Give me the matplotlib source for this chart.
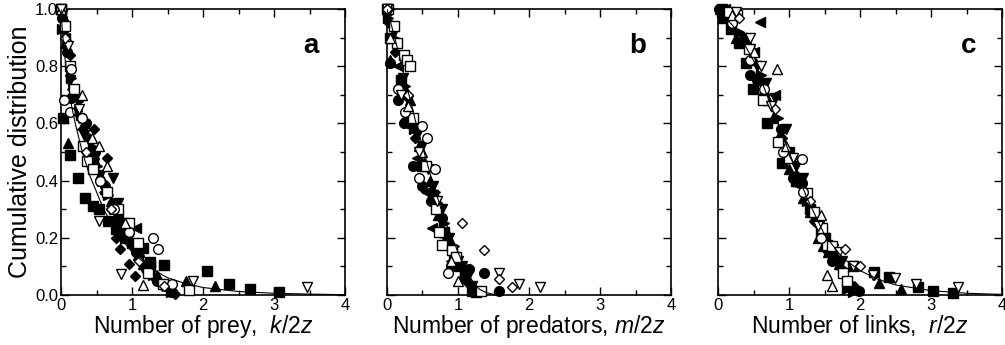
import matplotlib
matplotlib.use("Agg")
import matplotlib.pyplot as plt
from matplotlib.ticker import MultipleLocator

plt.rcParams['font.family'] = ['Liberation Sans', 'DejaVu Sans']
plt.rcParams['mathtext.fontset'] = 'custom'
plt.rcParams['mathtext.rm'] = 'Liberation Sans'
plt.rcParams['mathtext.it'] = 'Liberation Sans:italic'

# ---------------- fit curves ----------------
fit_a_x = [0.0, 0.02, 0.05, 0.1, 0.15, 0.2, 0.3, 0.4, 0.5, 0.6, 0.75, 0.9, 1.0, 1.25, 1.5, 1.75, 2.0, 2.5, 3.0, 3.5, 4.0]
fit_a_y = [1.0, 0.92, 0.84, 0.74, 0.66, 0.6, 0.5, 0.42, 0.36, 0.3, 0.23, 0.18, 0.15, 0.095, 0.06, 0.04, 0.026, 0.012, 0.006, 0.003, 0.001]
fit_b_x = [0.0, 0.1, 0.2, 0.3, 0.4, 0.5, 0.6, 0.7, 0.8, 0.9, 1.0, 1.1, 1.2, 1.3, 1.4, 1.5]
fit_b_y = [1.0, 0.91, 0.81, 0.71, 0.61, 0.52, 0.43, 0.35, 0.27, 0.21, 0.15, 0.09, 0.05, 0.02, 0.008, 0.002]
fit_c_x = [0.0, 0.25, 0.5, 0.75, 1.0, 1.25, 1.5, 1.75, 2.0, 2.25, 2.5, 3.0, 3.5, 4.0]
fit_c_y = [1.0, 0.93, 0.82, 0.66, 0.5, 0.34, 0.21, 0.13, 0.085, 0.055, 0.035, 0.015, 0.006, 0.002]

# ---------------- panel a : prey ----------------
a_sqf_x = [0.0, 0.03, 0.13, 0.24, 0.34, 0.45, 0.54, 0.66, 0.78, 0.9, 1.05, 1.16, 1.25, 1.45, 2.06, 2.36, 2.66, 3.06]
a_sqf_y = [1.0, 0.62, 0.49, 0.41, 0.34, 0.31, 0.30, 0.26, 0.23, 0.2, 0.17, 0.164, 0.115, 0.105, 0.085, 0.04, 0.02, 0.01]
a_sqo_x = [0.0, 0.05, 0.13, 0.18, 0.31, 0.37, 0.45, 0.64, 0.8, 0.95, 1.08, 1.22, 1.44, 1.8]
a_sqo_y = [1.0, 0.94, 0.80, 0.72, 0.52, 0.47, 0.44, 0.36, 0.30, 0.25, 0.18, 0.077, 0.04, 0.017]
a_cf_x = [0.02, 0.08, 0.14, 0.26, 0.35, 0.48, 0.62, 0.78, 0.92, 1.05, 1.2, 1.35, 1.48, 1.56]
a_cf_y = [0.97, 0.85, 0.69, 0.69, 0.6, 0.5, 0.38, 0.3, 0.22, 0.15, 0.09, 0.05, 0.03, 0.01]
a_co_x = [0.0, 0.04, 0.13, 0.14, 0.3, 0.55, 0.75, 0.95, 1.29, 1.36, 1.56]
a_co_y = [1.0, 0.68, 0.64, 0.79, 0.62, 0.4, 0.3, 0.22, 0.2, 0.16, 0.04]
a_tuf_x = [0.0, 0.05, 0.1, 0.22, 0.32, 0.4, 0.48, 0.55, 0.62, 0.7, 0.78, 0.85, 0.93, 1.0, 1.08, 1.15, 1.25, 1.35, 1.76, 2.16]
a_tuf_y = [1.0, 0.88, 0.53, 0.66, 0.6, 0.55, 0.47, 0.42, 0.37, 0.33, 0.28, 0.25, 0.21, 0.18, 0.14, 0.11, 0.09, 0.07, 0.05, 0.03]
a_tuo_x = [0.0, 0.08, 0.3, 0.44, 0.54, 0.65, 0.9, 1.15]
a_tuo_y = [1.0, 0.9, 0.7, 0.55, 0.52, 0.45, 0.25, 0.035]
a_tdf_x = [0.02, 0.05, 0.12, 0.25, 0.33, 0.4, 0.47, 0.55, 0.73, 0.8, 0.88, 0.95, 1.02, 1.1, 1.2, 1.3, 1.42, 1.52]
a_tdf_y = [0.98, 0.92, 0.75, 0.62, 0.56, 0.5, 0.46, 0.42, 0.41, 0.32, 0.25, 0.2, 0.16, 0.12, 0.09, 0.06, 0.03, 0.01]
a_tdo_x = [0.0, 0.1, 0.25, 0.54, 0.85, 1.86, 3.46]
a_tdo_y = [1.0, 0.87, 0.65, 0.26, 0.075, 0.05, 0.027]
a_df_x = [0.03, 0.12, 0.2, 0.3, 0.46, 0.65, 0.7, 0.78, 0.83, 0.95, 1.04, 1.4, 1.6]
a_df_y = [0.96, 0.84, 0.7, 0.62, 0.58, 0.48, 0.3, 0.2, 0.16, 0.11, 0.065, 0.04, 0.005]
a_do_x = [0.05, 0.35, 0.7, 1.1, 1.45]
a_do_y = [0.9, 0.5, 0.3, 0.12, 0.03]
a_tlf_x = [0.05, 0.15, 0.3, 0.45, 0.6, 0.8, 1.05, 1.25, 1.5]
a_tlf_y = [0.9, 0.72, 0.58, 0.47, 0.36, 0.27, 0.235, 0.1, 0.02]
a_trf_x = [0.02, 0.14, 0.28, 0.42, 0.5, 0.58, 0.66, 0.75, 0.82, 0.9, 1.0, 1.1, 1.3, 1.55]
a_trf_y = [0.93, 0.76, 0.63, 0.52, 0.45, 0.4, 0.35, 0.3, 0.26, 0.22, 0.18, 0.14, 0.07, 0.01]

# ---------------- panel b : predators ----------------
b_sqf_x = [0.0, 0.05, 0.2, 0.35, 0.5, 0.65, 0.8, 0.95, 1.1, 1.2]
b_sqf_y = [1.0, 0.9, 0.75, 0.6, 0.45, 0.35, 0.22, 0.12, 0.06, 0.015]
b_sqo_x = [0.02, 0.1, 0.14, 0.24, 0.28, 0.32, 0.37, 0.55, 0.69, 0.73, 0.77, 0.91, 0.97, 1.33]
b_sqo_y = [1.0, 0.94, 0.88, 0.84, 0.82, 0.80, 0.62, 0.45, 0.30, 0.22, 0.175, 0.157, 0.133, 0.015]
b_cf_x = [0.02, 0.04, 0.15, 0.24, 0.36, 0.5, 0.62, 0.78, 0.9, 1.15, 1.36, 1.57]
b_cf_y = [1.0, 0.81, 0.68, 0.60, 0.45, 0.38, 0.33, 0.27, 0.1, 0.09, 0.077, 0.015]
b_co_x = [0.0, 0.16, 0.25, 0.45, 0.49, 0.57, 0.67, 0.86]
b_co_y = [1.0, 0.72, 0.64, 0.41, 0.59, 0.55, 0.44, 0.077]
b_tuf_x = [0.0, 0.05, 0.2, 0.26, 0.32, 0.38, 0.45, 0.52, 0.6, 0.66, 0.72, 0.82, 0.9, 0.95, 1.02, 1.1, 1.25]
b_tuf_y = [1.0, 0.82, 0.75, 0.72, 0.68, 0.6, 0.52, 0.46, 0.4, 0.34, 0.28, 0.22, 0.18, 0.14, 0.1, 0.06, 0.01]
b_tuo_x = [0.05, 0.3, 0.5, 0.9, 1.0]
b_tuo_y = [0.9, 0.66, 0.5, 0.12, 0.05]
b_tdf_x = [0.02, 0.1, 0.22, 0.3, 0.35, 0.42, 0.5, 0.58, 0.65, 0.78, 0.88, 1.0, 1.05, 1.12, 1.2]
b_tdf_y = [0.98, 0.92, 0.76, 0.68, 0.6, 0.56, 0.52, 0.44, 0.38, 0.3, 0.2, 0.12, 0.1, 0.06, 0.03]
b_tdo_x = [0.0, 0.2, 0.45, 0.7, 1.57, 1.86, 2.15]
b_tdo_y = [1.0, 0.7, 0.5, 0.33, 0.077, 0.04, 0.027]
b_df_x = [0.03, 0.12, 0.25, 0.4, 0.55, 0.7, 0.85, 1.0, 1.15]
b_df_y = [0.95, 0.85, 0.7, 0.55, 0.45, 0.32, 0.2, 0.1, 0.04]
b_do_x = [0.0, 0.3, 1.06, 1.36, 1.57, 1.76]
b_do_y = [1.0, 0.7, 0.25, 0.157, 0.055, 0.027]
b_tlf_x = [0.05, 0.15, 0.28, 0.42, 0.55, 0.64, 0.9, 1.05]
b_tlf_y = [0.9, 0.8, 0.62, 0.48, 0.36, 0.235, 0.12, 0.06]
b_trf_x = [0.02, 0.1, 0.25, 0.38, 0.52, 0.68, 0.8, 0.95, 1.1, 1.22]
b_trf_y = [0.97, 0.9, 0.73, 0.58, 0.46, 0.36, 0.25, 0.17, 0.08, 0.02]

# ---------------- panel c : links ----------------
c_sqf_x = [0.07, 0.18, 0.3, 0.39, 0.49, 0.69, 0.9, 1.1, 1.3, 1.5, 1.65, 1.9, 2.2, 2.4, 2.81, 3.02, 3.3]
c_sqf_y = [0.97, 0.93, 0.88, 0.81, 0.72, 0.60, 0.46, 0.4, 0.3, 0.2, 0.14, 0.1, 0.08, 0.063, 0.029, 0.015, 0.007]
c_sqo_x = [0.15, 0.27, 0.44, 0.63, 0.84, 1.0, 1.25, 1.35, 1.46, 1.54, 1.6, 1.76, 1.82]
c_sqo_y = [0.99, 0.98, 0.86, 0.68, 0.535, 0.48, 0.355, 0.29, 0.235, 0.175, 0.17, 0.077, 0.05]
c_cf_x = [0.02, 0.3, 0.45, 0.55, 0.65, 0.88, 1.05, 1.18, 1.4, 1.6, 1.98]
c_cf_y = [1.0, 0.88, 0.77, 0.75, 0.7, 0.58, 0.41, 0.39, 0.25, 0.12, 0.015]
c_co_x = [0.2, 0.45, 0.65, 0.92, 1.18, 1.2, 1.45]
c_co_y = [0.95, 0.82, 0.72, 0.5, 0.475, 0.36, 0.2]
c_tuf_x = [0.03, 0.25, 0.5, 0.6, 0.7, 0.78, 0.85, 1.0, 1.1, 1.2, 1.3, 1.4, 1.48, 1.55, 1.7, 2.26, 2.57]
c_tuf_y = [1.0, 0.9, 0.82, 0.75, 0.68, 0.62, 0.55, 0.44, 0.4, 0.34, 0.29, 0.2, 0.17, 0.15, 0.11, 0.043, 0.02]
c_tuo_x = [0.2, 0.5, 0.83, 0.95, 1.45, 1.53, 1.61]
c_tuo_y = [0.98, 0.85, 0.79, 0.52, 0.28, 0.07, 0.03]
c_tdf_x = [0.05, 0.35, 0.45, 0.55, 0.68, 0.8, 0.95, 1.0, 1.1, 1.2, 1.32, 1.42, 1.5, 1.62, 1.75, 2.2]
c_tdf_y = [1.0, 0.9, 0.86, 0.8, 0.74, 0.69, 0.58, 0.5, 0.45, 0.41, 0.28, 0.24, 0.2, 0.16, 0.12, 0.07]
c_tdo_x = [0.25, 0.45, 0.6, 0.75, 1.05, 1.4, 1.7, 1.9, 2.18, 2.49, 2.79, 3.37]
c_tdo_y = [0.99, 0.9, 0.8, 0.66, 0.48, 0.24, 0.15, 0.1, 0.07, 0.058, 0.04, 0.027]
c_df_x = [0.1, 0.4, 0.65, 0.9, 1.1, 1.35, 1.55, 1.75, 1.92]
c_df_y = [0.99, 0.88, 0.7, 0.55, 0.42, 0.26, 0.15, 0.09, 0.03]
c_do_x = [0.3, 0.8, 1.3, 1.78, 2.0]
c_do_y = [0.97, 0.65, 0.33, 0.16, 0.1]
c_tlf_x = [0.1, 0.59, 0.5, 0.8, 1.0, 1.15, 1.38, 1.6]
c_tlf_y = [1.0, 0.955, 0.85, 0.7, 0.5, 0.38, 0.25, 0.12]
c_trf_x = [0.05, 0.3, 0.6, 0.85, 1.05, 1.25, 1.45, 1.65, 1.82, 1.9]
c_trf_y = [0.99, 0.92, 0.77, 0.62, 0.48, 0.33, 0.22, 0.13, 0.02, 0.01]

xlabels = ["Number of prey,  $\\mathit{k/2z}$",
           "Number of predators, $\\mathit{m/2z}$",
           "Number of links,  $\\mathit{r/2z}$"]
panel_letters = ["a", "b", "c"]

# marker styles: (marker, filled, size)
styles = {
    "sqf": ("s", True, 6.5), "sqo": ("s", False, 6.5),
    "cf": ("o", True, 7), "co": ("o", False, 7),
    "tuf": ("^", True, 7.5), "tuo": ("^", False, 7.5),
    "tdf": ("v", True, 7.5), "tdo": ("v", False, 7.5),
    "df": ("D", True, 5.5), "do": ("D", False, 5.5),
    "tlf": ("<", True, 7.5), "trf": (">", True, 7.5),
}
order = ["sqf", "cf", "tuf", "tdf", "df", "tlf", "trf", "sqo", "co", "tuo", "tdo", "do"]

g = globals()
fits = [(fit_a_x, fit_a_y), (fit_b_x, fit_b_y), (fit_c_x, fit_c_y)]

fig = plt.figure(figsize=(10.05, 3.45), dpi=100)
lefts = [0.0607, 0.385, 0.7144]
width = 0.283
bottom = 0.145
height = 0.829

for i, p in enumerate(["a", "b", "c"]):
    ax = fig.add_axes([lefts[i], bottom, width, height])
    for key in order:
        m, filled, ms = styles[key]
        xs = g[f"{p}_{key}_x"]
        ys = g[f"{p}_{key}_y"]
        ax.plot(xs, ys, linestyle="none", marker=m, markersize=ms,
                markerfacecolor="black" if filled else "white",
                markeredgecolor="black", markeredgewidth=1.0,
                clip_on=False, zorder=3)
    fx, fy = fits[i]
    ax.plot(fx, fy, color="black", linewidth=0.8, zorder=4)
    ax.set_xlim(0, 4)
    ax.set_ylim(0, 1)
    ax.xaxis.set_major_locator(MultipleLocator(1))
    ax.xaxis.set_minor_locator(MultipleLocator(0.5))
    ax.yaxis.set_major_locator(MultipleLocator(0.2))
    ax.yaxis.set_minor_locator(MultipleLocator(0.1))
    ax.tick_params(which="both", direction="in", top=True, right=True, width=1.0)
    ax.tick_params(which="major", length=6, labelsize=12, pad=2)
    ax.tick_params(which="minor", length=3.5)
    for s in ax.spines.values():
        s.set_linewidth(1.2)
    if i == 0:
        ax.yaxis.set_major_formatter(plt.FormatStrFormatter("%.1f"))
        ax.set_ylabel("Cumulative distribution", fontsize=18, labelpad=2)
    else:
        ax.set_yticklabels([])
    ax.set_xlabel(xlabels[i], fontsize=16.5, labelpad=0)
    ax.text(0.88, 0.87, panel_letters[i], transform=ax.transAxes,
            fontsize=20, fontweight="bold", ha="center", va="center")

fig.savefig("out.png", dpi=100, facecolor="white")
